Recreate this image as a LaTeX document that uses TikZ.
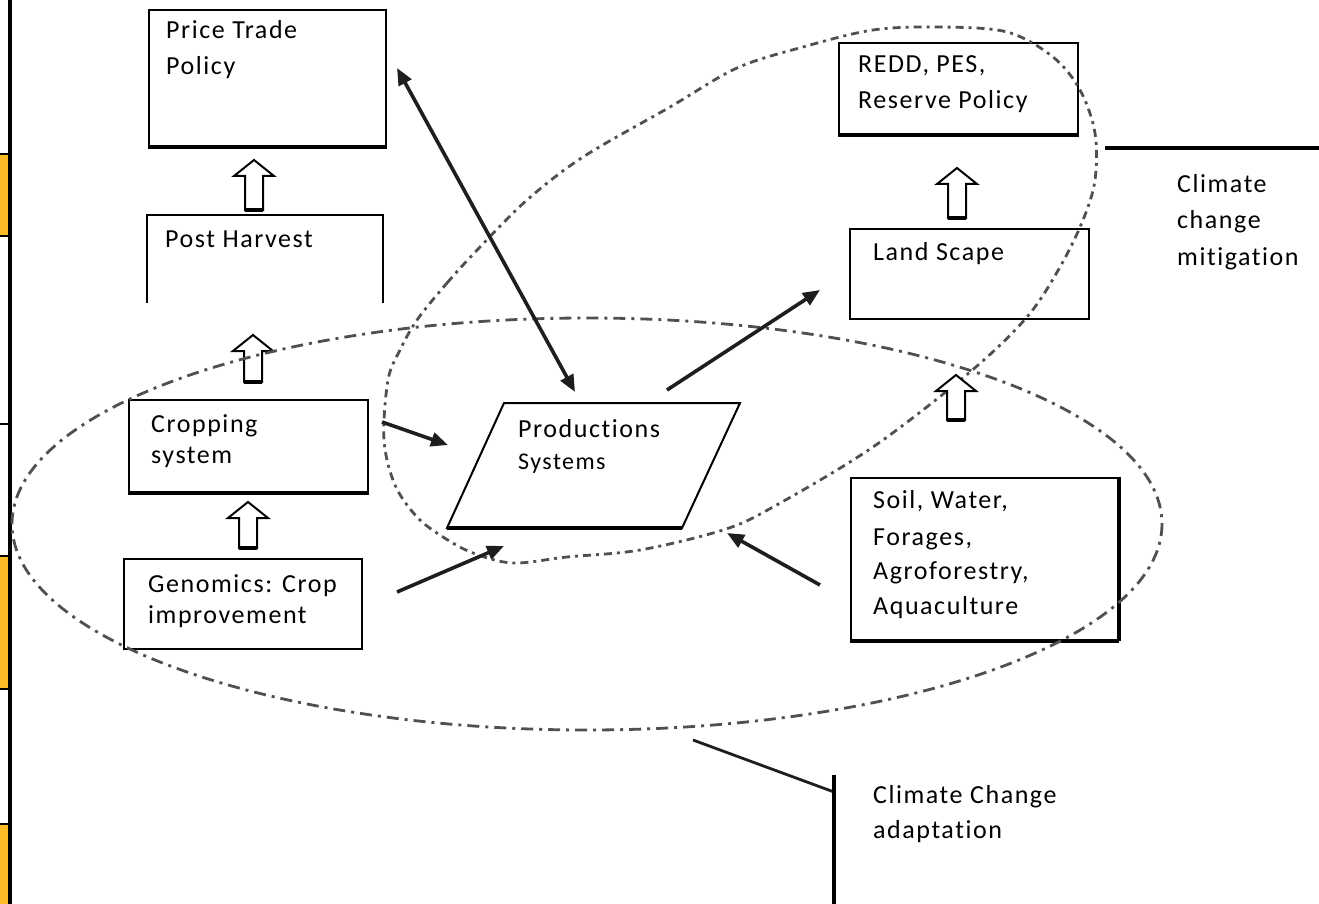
\documentclass[tikz,border=0pt]{standalone}
\usepackage{fontspec}
\newfontfamily\lblfamily{Carlito}[LetterSpace=6, Ligatures={NoCommon}]
\usetikzlibrary{arrows.meta}
\definecolor{orangebar}{RGB}{252,186,36}
\definecolor{dashgray}{RGB}{80,80,80}
\definecolor{arrowdark}{RGB}{30,30,30}
\tikzset{
  lbl/.style={anchor=base west, inner sep=0pt, font=\lblfamily\fontsize{26}{30}\selectfont},
  lblsmall/.style={anchor=base west, inner sep=0pt, font=\lblfamily\fontsize{24}{28}\selectfont},
  boxline/.style={draw=black, line width=2pt},
  shadowline/.style={draw=black, line width=4.5pt},
  blockarrow/.style={draw=black, line width=2pt, fill=white},
  flowarrow/.style={draw=arrowdark, line width=3.6pt, -{Triangle[length=17pt,width=14pt]}},
  biarrow/.style={draw=arrowdark, line width=3.6pt, {Triangle[length=17pt,width=14pt]}-{Triangle[length=17pt,width=14pt]}},
  ellipseA/.style={draw=dashgray, line width=2.8pt, dash pattern=on 12pt off 6pt on 3pt off 6pt},
  ellipseB/.style={draw=dashgray, line width=2.8pt, dash pattern=on 8pt off 5pt on 3pt off 5pt},
  leader/.style={draw=black, line width=4.5pt},
  leaderthin/.style={draw=arrowdark, line width=2.8pt},
}
\newcommand{\uparrowblock}[3]{% cx, tip y, bottom y
  \draw[blockarrow] (#1,#2) -- (#1+20,#2+16) -- (#1+9,#2+16) -- (#1+9,#3) -- (#1-9,#3) -- (#1-9,#2+16) -- (#1-20,#2+16) -- cycle;
  \draw[black, line width=3.5pt] (#1-9,#3) -- (#1+9,#3);
}
\begin{document}
\begin{tikzpicture}[x=1pt,y=-1pt]
\useasboundingbox[fill=white] (0,0) rectangle (1319,904);

% left margin bar
\fill[orangebar] (0,154) rectangle (9,236);
\fill[orangebar] (0,556) rectangle (9,689);
\fill[orangebar] (0,824) rectangle (9,904);
\draw[black, line width=3.5pt] (10,0) -- (10,904);
\foreach \yy in {154,236,424,556,689,824} \draw[black, line width=2.5pt] (0,\yy) -- (10,\yy);

% boxes
\node[boxline, anchor=north west, minimum width=237pt, minimum height=136pt, inner sep=0pt] (price) at (148,9) {};
\draw[shadowline] (price.south west) -- (price.south east);
\node[lbl] (priceT1) at (166,39) {Price Trade};
\node[lbl] (priceT2) at (166,75) {Policy};

\coordinate (postTL) at (147,215);
\coordinate (postTR) at (383,215);
\draw[boxline] (147,303) -- (postTL) -- (postTR) -- (383,303);
\node[lbl] (postT) at (165,247) {Post Harvest};

\node[boxline, anchor=north west, minimum width=239pt, minimum height=92pt, inner sep=0pt] (crop) at (128,399) {};
\draw[shadowline] (crop.south west) -- (crop.south east);
\node[lbl] (cropT1) at (151,432) {Cropping};
\node[lbl] (cropT2) at (151,463) {system};

\node[boxline, anchor=north west, minimum width=238pt, minimum height=90pt, inner sep=0pt] (geno) at (123,558) {};
\node[lbl] (genoT1) at (148,592) {Genomics: Crop};
\node[lbl] (genoT2) at (148,623) {improvement};

\node[boxline, anchor=north west, minimum width=239pt, minimum height=91pt, inner sep=0pt] (redd) at (838,42) {};
\draw[shadowline] (redd.south west) -- (redd.south east);
\node[lbl] (reddT1) at (858,73) {REDD, PES,};
\node[lbl] (reddT2) at (858,109) {Reserve Policy};

\node[boxline, anchor=north west, minimum width=239pt, minimum height=90pt, inner sep=0pt] (land) at (849,228) {};
\node[lbl] (landT) at (873,260) {Land Scape};

\node[boxline, anchor=north west, minimum width=267pt, minimum height=162pt, inner sep=0pt] (soil) at (850,477) {};
\draw[shadowline] (soil.south west) -- (soil.south east);
\draw[black, line width=3.5pt] (soil.north east) -- (soil.south east);
\node[lbl] (soilT1) at (873,508) {Soil, Water,};
\node[lbl] (soilT2) at (873,545) {Forages,};
\node[lbl] (soilT3) at (873,579) {Agroforestry,};
\node[lbl] (soilT4) at (873,614) {Aquaculture};

% production systems parallelogram
\coordinate (pBL) at (447,528);
\coordinate (pTL) at (504,403);
\coordinate (pTR) at (740,403);
\coordinate (pBR) at (682,528);
\draw[boxline, fill=white] (pBL) -- (pTL) -- (pTR) -- (pBR) -- cycle;
\draw[shadowline] (pBL) -- (pBR);
\node[lbl] (prodT1) at (518,437) {Productions};
\node[lblsmall] (prodT2) at (518,469) {Systems};

% block arrows
\uparrowblock{254}{160}{210}
\uparrowblock{253}{335}{382}
\uparrowblock{248}{502}{548}
\uparrowblock{957}{168}{218}

% ellipses
\draw[ellipseA] (587,524) ellipse [x radius=575, y radius=206];
\draw[ellipseB] plot[smooth cycle, tension=0.55] coordinates {
 (417,320) (447,283) (480,247) (527,200) (583,157) (670,107) (737,68) (803,47)
 (873,30) (940,27) (1007,32) (1053,57) (1080,90) (1095,133) (1095,180) (1083,220)
 (1060,267) (1027,317) (970,372) (873,447) (773,507) (723,530) (640,550) (567,557)
 (513,563) (473,553) (443,537) (417,517) (395,485) (384,440) (388,380) (400,350)};

\uparrowblock{956}{375}{420}

% connector end points
\coordinate (dA) at (397,68);
\coordinate (dB) at (575,392);
\coordinate (c1s) at (382,422);
\coordinate (c1e) at (448,445);
\coordinate (g1s) at (397,592);
\coordinate (g1e) at (504,546);
\coordinate (p1s) at (667,390);
\coordinate (p1e) at (820,290);
\coordinate (s1s) at (820,585);
\coordinate (s1e) at (727,533);

\draw[biarrow] (dA) -- (dB);
\draw[flowarrow] (c1s) -- (c1e);
\draw[flowarrow] (g1s) -- (g1e);
\draw[flowarrow] (p1s) -- (p1e);
\draw[flowarrow] (s1s) -- (s1e);

% climate change mitigation
\coordinate (mitA) at (1105,148);
\coordinate (mitB) at (1319,148);
\draw[leader] (mitA) -- (mitB);
\node[lbl] (mitT1) at (1177,193) {Climate};
\node[lbl] (mitT2) at (1177,228) {change};
\node[lbl] (mitT3) at (1177,265) {mitigation};

% climate change adaptation
\coordinate (adA) at (693,740);
\coordinate (adB) at (834,792);
\coordinate (adTop) at (834,775);
\coordinate (adBot) at (834,904);
\draw[leaderthin] (adA) -- (adB);
\draw[leader] (adTop) -- (adBot);
\node[lbl] (adT1) at (873,803) {Climate Change};
\node[lbl] (adT2) at (873,838) {adaptation};
\end{tikzpicture}
\end{document}
